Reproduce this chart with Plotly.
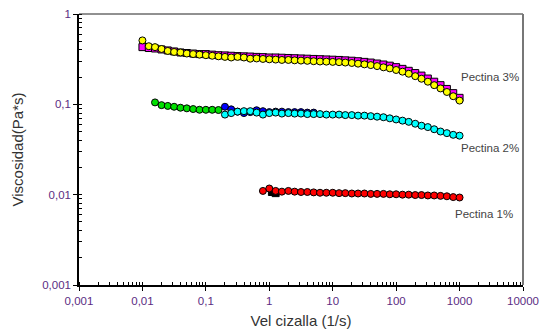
import math
import plotly.graph_objects as go

# ---- data ----
x_p3 = [0.01, 0.0126, 0.0158, 0.02, 0.0251, 0.0316, 0.0398, 0.0501, 0.0631, 0.0794,
        0.1, 0.126, 0.158, 0.2, 0.251, 0.316, 0.398, 0.501, 0.631, 0.794,
        1, 1.26, 1.58, 2, 2.51, 3.16, 3.98, 5.01, 6.31, 7.94,
        10, 12.6, 15.8, 20, 25.1, 31.6, 39.8, 50.1, 63.1, 79.4,
        100, 126, 158, 200, 251, 316, 398, 501, 631, 794, 1000]
y_p3_magenta = [0.43, 0.42, 0.415, 0.405, 0.395, 0.385, 0.375, 0.37, 0.365, 0.36,
                0.36, 0.355, 0.35, 0.348, 0.345, 0.342, 0.34, 0.338, 0.335, 0.333,
                0.33, 0.33, 0.328, 0.326, 0.324, 0.322, 0.32, 0.318, 0.316, 0.314,
                0.312, 0.31, 0.307, 0.304, 0.3, 0.295, 0.29, 0.283, 0.276, 0.268,
                0.258, 0.247, 0.235, 0.222, 0.208, 0.193, 0.178, 0.163, 0.148, 0.133, 0.118]
y_p3_yellow = [0.51, 0.44, 0.43, 0.41, 0.39, 0.38, 0.375, 0.365, 0.36, 0.355,
               0.35, 0.345, 0.34, 0.335, 0.33, 0.335, 0.33, 0.32, 0.322, 0.318,
               0.315, 0.313, 0.31, 0.31, 0.307, 0.305, 0.303, 0.3, 0.298, 0.297,
               0.295, 0.293, 0.29, 0.287, 0.282, 0.277, 0.272, 0.265, 0.257, 0.25,
               0.24, 0.23, 0.218, 0.205, 0.192, 0.178, 0.163, 0.15, 0.137, 0.123, 0.11]

x_p2_green = [0.0158, 0.02, 0.0251, 0.0316, 0.0398, 0.0501, 0.0631, 0.0794, 0.1, 0.126, 0.158]
y_p2_green = [0.105, 0.098, 0.096, 0.094, 0.0917, 0.0903, 0.0887, 0.0871, 0.087, 0.087, 0.0865]

x_p2_blue = [0.2, 0.251, 0.316, 0.398, 0.501, 0.631, 0.794, 1, 1.26, 1.58, 2, 2.51, 3.16, 3.98, 5.01]
y_p2_blue = [0.094, 0.088, 0.083, 0.08, 0.082, 0.086, 0.084, 0.082, 0.083, 0.083, 0.082, 0.082, 0.082, 0.081, 0.081]

x_p2_cyan = [0.2, 0.251, 0.316, 0.398, 0.501, 0.631, 0.794,
             1, 1.26, 1.58, 2, 2.51, 3.16, 3.98, 5.01, 6.31, 7.94,
             10, 12.6, 15.8, 20, 25.1, 31.6, 39.8, 50.1, 63.1, 79.4,
             100, 126, 158, 200, 251, 316, 398, 501, 631, 794, 1000]
y_p2_cyan = [0.077, 0.08, 0.083, 0.084, 0.084, 0.081, 0.077,
             0.08, 0.081, 0.079, 0.08, 0.079, 0.079, 0.078, 0.078, 0.078, 0.077,
             0.077, 0.077, 0.076, 0.076, 0.075, 0.075, 0.074, 0.073, 0.072, 0.07,
             0.068, 0.066, 0.064, 0.061, 0.058, 0.056, 0.053, 0.05, 0.048, 0.046, 0.045]

x_p1 = [0.794, 1, 1.26, 1.58, 2, 2.51, 3.16, 3.98, 5.01, 6.31, 7.94,
        10, 12.6, 15.8, 20, 25.1, 31.6, 39.8, 50.1, 63.1, 79.4,
        100, 126, 158, 200, 251, 316, 398, 501, 631, 794, 1000]
y_p1 = [0.011, 0.0117, 0.011, 0.0108, 0.011, 0.0108, 0.0107, 0.0107, 0.0106, 0.0105, 0.0105,
        0.0105, 0.0104, 0.0104, 0.0103, 0.0103, 0.0103, 0.0102, 0.0102, 0.0102, 0.0101,
        0.0101, 0.01, 0.01, 0.0099, 0.0099, 0.0098, 0.0098, 0.0097, 0.0096, 0.0094, 0.0093]
x_p1_black = [1.1, 1.26]
y_p1_black = [0.0107, 0.0104]

x_tickvals = [0.001, 0.01, 0.1, 1, 10, 100, 1000, 10000]
x_ticktext = ["0,001", "0,01", "0,1", "1", "10", "100", "1000", "10000"]
y_tickvals = [0.001, 0.01, 0.1, 1]
y_ticktext = ["0,001", "0,01", "0,1", "1"]

labels = ["Pectina 3%", "Pectina 2%", "Pectina 1%"]
label_x = [3000, 3000, 2400]
label_y = [0.2, 0.033, 0.0061]

# ---- figure ----
fig = go.Figure()

def add(xs, ys, color, symbol="circle"):
    fig.add_trace(go.Scatter(
        x=xs, y=ys, mode="lines+markers",
        line=dict(color="black", width=1.5),
        marker=dict(symbol=symbol, size=7, color=color, line=dict(color="black", width=1)),
        showlegend=False, hoverinfo="skip"))

add(x_p3, y_p3_magenta, "#ff00ff", "square")
add(x_p3, y_p3_yellow, "#ffff00")
add(x_p2_green, y_p2_green, "#00e000")
add(x_p2_blue, y_p2_blue, "#0000ff")
add(x_p2_cyan, y_p2_cyan, "#00ffff")
add(x_p1_black, y_p1_black, "#000000", "square")
add(x_p1, y_p1, "#ff0000")

# annotations on log axes use log10 coordinates
for t, lx, ly in zip(labels, label_x, label_y):
    fig.add_annotation(x=math.log10(lx), y=math.log10(ly), xref="x", yref="y", text=t,
                       showarrow=False,
                       font=dict(family="Liberation Sans, Arial", size=11.5, color="#444444"),
                       xanchor="center", yanchor="middle")

tickfont = dict(family="Liberation Sans, Arial", size=11.5, color="#5b2c83")
titlefont = dict(family="Liberation Sans, Arial", size=15, color="#333333")

fig.update_xaxes(type="log", range=[-3, 4], tickvals=x_tickvals, ticktext=x_ticktext,
                 ticks="outside", ticklen=4, tickcolor="black", tickwidth=1,
                 showline=True, linecolor="black", linewidth=1.5, showgrid=False, zeroline=False,
                 tickfont=tickfont, automargin=False, ticklabeloverflow="allow",
                 minor=dict(ticks="inside", ticklen=3, tickcolor="black", dtick="D1", showgrid=False),
                 title=dict(text="Vel cizalla (1/s)", font=titlefont, standoff=12))
fig.update_yaxes(type="log", range=[-3, 0], tickvals=y_tickvals, ticktext=y_ticktext,
                 ticks="outside", ticklen=4, tickcolor="black", tickwidth=1,
                 showline=True, linecolor="black", linewidth=1.5, showgrid=False, zeroline=False,
                 tickfont=tickfont, automargin=False,
                 minor=dict(ticks="inside", ticklen=3, tickcolor="black", dtick="D1", showgrid=False),
                 title=dict(text="Viscosidad(Pa*s)", font=titlefont, standoff=15))

# box lines on top and right
fig.add_shape(type="line", xref="paper", yref="paper", x0=0, x1=1, y0=1, y1=1,
              line=dict(color="#222222", width=1))
fig.add_shape(type="line", xref="paper", yref="paper", x0=1, x1=1, y0=0, y1=1,
              line=dict(color="#777777", width=2))

fig.update_layout(width=541, height=329, margin=dict(l=79, r=18, t=14, b=44),
                  plot_bgcolor="white", paper_bgcolor="white")

# remove the default page margin so the figure fills the window exactly
fig.write_html("out.html", config={"displayModeBar": False},
               post_script="document.body.style.margin='0';document.body.style.overflow='hidden';")
